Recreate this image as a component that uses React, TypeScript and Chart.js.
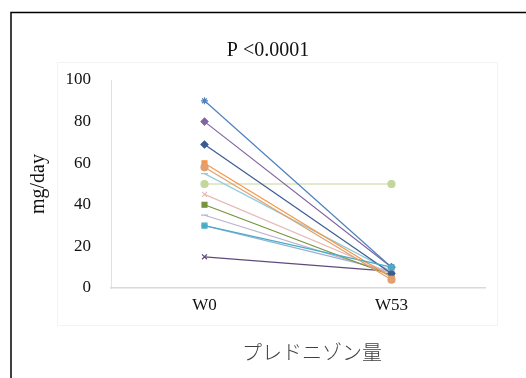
import React, { useEffect, useRef } from "react";
import { Chart, registerables } from "chart.js";

Chart.register(...registerables);

const categories = ["W0", "W53"];
const chartTitle = "P <0.0001";
const yTitle = "mg/day";
const xTitle = "プレドニゾン量";
const yTicks = [0, 20, 40, 60, 80, 100];

const s1 = [90, 10];
const s2 = [80, 10];
const s3 = [69, 7];
const s4 = [60, 5];
const s5 = [58, 4];
const s6 = [55, 8];
const s7 = [50, 50];
const s8 = [45, 7];
const s9 = [40, 6];
const s10 = [35, 7];
const s11 = [30, 10];
const s12 = [30, 8];
const s13 = [15, 8];

const seriesList = [
  { data: s1, color: "#4f81bd", style: "star", order: 0 },
  { data: s2, color: "#8064a2", style: "rectRot", order: 0 },
  { data: s3, color: "#3b5b92", style: "rectRot", order: 0 },
  { data: s4, color: "#f79646", style: "rect", order: 0 },
  { data: s5, color: "#e0a070", style: "circle", order: -1 },
  { data: s6, color: "#93cddd", style: "line", order: 0 },
  { data: s7, color: "#c3d69b", style: "circle", order: 0 },
  { data: s8, color: "#e6b9b8", style: "crossRot", order: 0 },
  { data: s9, color: "#77933c", style: "rect", order: 0 },
  { data: s10, color: "#b9b3cc", style: "line", order: 0 },
  { data: s11, color: "#4bacc6", style: "rect", order: -1 },
  { data: s12, color: "#95b3d7", style: "line", order: 0 },
  { data: s13, color: "#604a7b", style: "crossRot", order: 0 },
];

const framePlugin = {
  id: "frame",
  beforeDraw(chart: any) {
    const ctx = chart.ctx;
    ctx.save();
    ctx.strokeStyle = "#f3f3f3";
    ctx.lineWidth = 1;
    ctx.strokeRect(57.5, 62.5, 440, 263);
    ctx.restore();
  },
  afterDraw(chart: any) {
    const ctx = chart.ctx;
    ctx.save();
    ctx.strokeStyle = "#000";
    ctx.lineWidth = 1.5;
    ctx.beginPath();
    ctx.moveTo(11, 378);
    ctx.lineTo(11, 12.5);
    ctx.lineTo(526, 12.5);
    ctx.stroke();
    ctx.fillStyle = "#111";
    ctx.textAlign = "center";
    ctx.textBaseline = "middle";
    ctx.font = "20px 'Liberation Serif', 'Times New Roman', serif";
    ctx.fillText(chartTitle, 268, 51);
    ctx.fillStyle = "#404040";
    ctx.font = "300 20px 'Noto Sans CJK JP', sans-serif";
    ctx.fillText(xTitle, 312, 352);
    ctx.restore();
  },
};

export default function App() {
  const ref = useRef<HTMLCanvasElement>(null);
  useEffect(() => {
    if (!ref.current) return;
    const chart = new Chart(ref.current, {
      type: "line",
      data: {
        labels: categories,
        datasets: seriesList.map((s, i) => ({
          label: "S" + (i + 1),
          data: s.data,
          order: s.order,
          borderColor: s.color,
          backgroundColor: s.color,
          borderWidth: 1.2,
          pointStyle: s.style as any,
          pointRadius: 3.5,
          pointBorderWidth: 1.2,
          pointBorderColor: s.color,
          pointBackgroundColor: s.color,
          tension: 0,
        })),
      },
      options: {
        responsive: false,
        animation: false,
        layout: { padding: { left: 20, right: 41, top: 80, bottom: 0 } },
        plugins: {
          legend: { display: false },
          title: { display: false },
          tooltip: { enabled: false },
        },
        scales: {
          x: {
            offset: true,
            grid: { display: false, drawTicks: false },
            border: { display: true, color: "#d9d9d9", width: 1.5 },
            ticks: {
              color: "#111",
              padding: 7,
              font: { family: "'Liberation Serif', 'Times New Roman', serif", size: 17 },
            },
            afterFit(scale: any) {
              scale.height = 90;
            },
          },
          y: {
            min: 0,
            max: 100,
            afterBuildTicks(scale: any) {
              scale.ticks = yTicks.map((v) => ({ value: v }));
            },
            grid: { display: false, drawTicks: false },
            border: { display: true, color: "#e0e0e0", width: 1 },
            ticks: {
              color: "#111",
              padding: 20,
              font: { family: "'Liberation Serif', 'Times New Roman', serif", size: 17 },
            },
            title: {
              display: true,
              text: yTitle,
              color: "#111",
              padding: { top: 7, bottom: 0 },
              font: { family: "'Liberation Serif', 'Times New Roman', serif", size: 20 },
            },
            afterFit(scale: any) {
              scale.width = 91;
            },
          },
        },
      },
      plugins: [framePlugin],
    });
    return () => chart.destroy();
  }, []);
  return (
    <div style={{ position: "fixed", left: 0, top: 0, width: 526, height: 378, background: "#fff" }}>
      <canvas ref={ref} width={526} height={378} style={{ width: 526, height: 378 }} />
    </div>
  );
}
